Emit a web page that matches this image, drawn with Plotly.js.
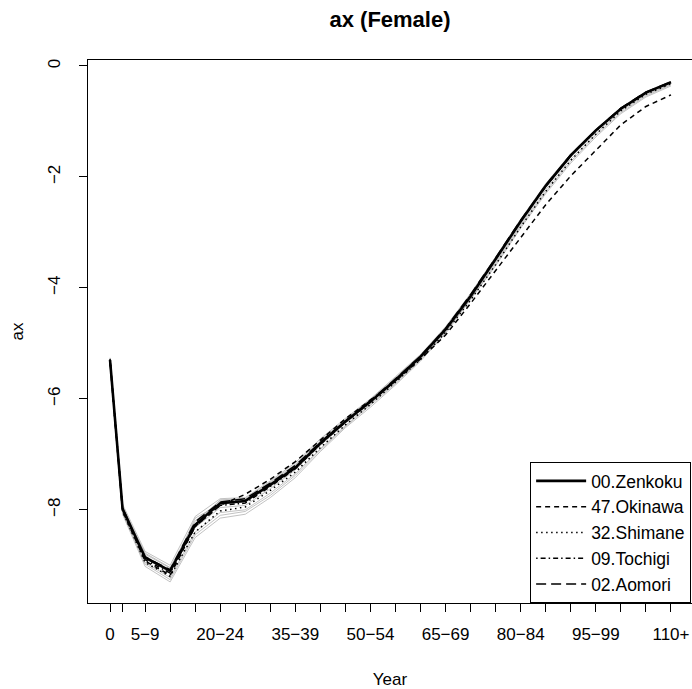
<!DOCTYPE html>
<html>
<head>
<meta charset="utf-8">
<script src="https://cdn.plot.ly/plotly-3.0.1.min.js"></script>
<style>html,body{margin:0;padding:0;background:#fff;}#chart{width:692px;height:689px;}</style>
</head>
<body>
<div id="chart"></div>
<script>
// Age groups (categories) and their mid-age positions
const ageGroups = ["0","1-4","5-9","10-14","15-19","20-24","25-29","30-34","35-39","40-44","45-49","50-54","55-59","60-64","65-69","70-74","75-79","80-84","85-89","90-94","95-99","100-104","105-109","110+"];
const ageMid = [0.5,3,7.5,12.5,17.5,22.5,27.5,32.5,37.5,42.5,47.5,52.5,57.5,62.5,67.5,72.5,77.5,82.5,87.5,92.5,97.5,102.5,107.5,112.5];
const shownLabels = ["0","5-9","20-24","35-39","50-54","65-69","80-84","95-99","110+"];

// Highlighted prefectures
const zenkoku  = [-5.30,-7.98,-8.86,-9.10,-8.27,-7.88,-7.84,-7.55,-7.24,-6.80,-6.41,-6.05,-5.66,-5.24,-4.75,-4.15,-3.48,-2.80,-2.16,-1.61,-1.16,-0.77,-0.48,-0.29];
const okinawa  = [-5.32,-8.02,-8.92,-9.18,-8.30,-7.92,-7.72,-7.45,-7.13,-6.74,-6.36,-6.02,-5.68,-5.28,-4.85,-4.28,-3.68,-3.09,-2.50,-1.98,-1.52,-1.06,-0.73,-0.52];
const shimane  = [-5.30,-8.03,-8.95,-9.20,-8.40,-8.02,-7.95,-7.65,-7.32,-6.88,-6.47,-6.10,-5.70,-5.29,-4.80,-4.22,-3.58,-2.90,-2.26,-1.70,-1.23,-0.81,-0.51,-0.32];
const tochigi  = [-5.28,-7.96,-8.90,-9.14,-8.30,-7.92,-7.88,-7.58,-7.26,-6.82,-6.42,-6.06,-5.67,-5.25,-4.74,-4.14,-3.48,-2.80,-2.17,-1.62,-1.17,-0.77,-0.48,-0.30];
const aomori   = [-5.33,-8.00,-8.85,-9.08,-8.22,-7.86,-7.80,-7.52,-7.20,-6.78,-6.40,-6.03,-5.64,-5.23,-4.73,-4.12,-3.46,-2.78,-2.15,-1.60,-1.16,-0.76,-0.47,-0.29];

// Other prefectures (grey background lines, read approximately)
const grey1 = [-5.26,-7.90,-8.75,-9.00,-8.12,-7.80,-7.78,-7.48,-7.15,-6.72,-6.35,-6.00,-5.60,-5.20,-4.70,-4.10,-3.44,-2.76,-2.12,-1.58,-1.14,-0.75,-0.46,-0.28];
const grey2 = [-5.38,-8.08,-9.02,-9.30,-8.50,-8.15,-8.08,-7.78,-7.42,-6.95,-6.52,-6.15,-5.75,-5.32,-4.82,-4.22,-3.60,-2.92,-2.30,-1.75,-1.28,-0.86,-0.56,-0.36];
const grey3 = [-5.31,-7.95,-8.80,-9.05,-8.20,-7.84,-7.82,-7.52,-7.20,-6.77,-6.39,-6.03,-5.63,-5.22,-4.72,-4.12,-3.47,-2.79,-2.15,-1.61,-1.17,-0.77,-0.48,-0.30];
const grey4 = [-5.35,-8.05,-8.95,-9.22,-8.40,-8.05,-8.00,-7.70,-7.35,-6.90,-6.48,-6.10,-5.71,-5.28,-4.78,-4.18,-3.54,-2.86,-2.23,-1.68,-1.22,-0.81,-0.52,-0.33];
const grey5 = [-5.28,-7.99,-8.88,-9.12,-8.32,-7.96,-7.92,-7.62,-7.28,-6.84,-6.44,-6.07,-5.68,-5.26,-4.76,-4.16,-3.51,-2.83,-2.19,-1.64,-1.19,-0.79,-0.50,-0.31];
const grey6 = [-5.34,-7.93,-8.82,-9.15,-8.15,-7.90,-7.86,-7.58,-7.24,-6.79,-6.40,-6.04,-5.65,-5.23,-4.74,-4.14,-3.49,-2.81,-2.17,-1.62,-1.18,-0.78,-0.49,-0.31];
const grey7 = [-5.29,-8.04,-8.98,-9.26,-8.45,-8.10,-8.03,-7.74,-7.38,-6.92,-6.50,-6.12,-5.73,-5.30,-4.80,-4.20,-3.57,-2.89,-2.27,-1.72,-1.25,-0.84,-0.54,-0.34];
const grey8 = [-5.36,-7.97,-8.78,-9.04,-8.25,-7.82,-7.80,-7.50,-7.18,-6.75,-6.37,-6.01,-5.62,-5.21,-4.71,-4.11,-3.45,-2.77,-2.13,-1.59,-1.15,-0.76,-0.47,-0.29];
const greySeries = [grey1,grey2,grey3,grey4,grey5,grey6,grey7,grey8];

const yTicks = [0,-2,-4,-6,-8];

const traces = [];
greySeries.forEach(g => traces.push({
  x: ageMid, y: g, type: 'scatter', mode: 'lines', showlegend: false, hoverinfo: 'skip',
  line: {color: '#a8a8a8', width: 0.7}
}));
const highlight = [
  {name: '00.Zenkoku', y: zenkoku, dash: 'solid', width: 2.6},
  {name: '47.Okinawa', y: okinawa, dash: '5px,4px', width: 1.5},
  {name: '32.Shimane', y: shimane, dash: '1.5px,3.5px', width: 1.5},
  {name: '09.Tochigi', y: tochigi, dash: '1.5px,3px,5px,3px', width: 1.5},
  {name: '02.Aomori', y: aomori, dash: '10px,5px', width: 1.5}
];
highlight.forEach(h => traces.push({
  x: ageMid, y: h.y, type: 'scatter', mode: 'lines', name: h.name,
  line: {color: '#000', width: h.width, dash: h.dash}
}));

const fontFam = 'Liberation Sans, Arial, Helvetica, sans-serif';
const layout = {
  width: 692, height: 689,
  margin: {l: 88, r: 0, t: 60, b: 86},
  paper_bgcolor: '#fff', plot_bgcolor: '#fff',
  font: {family: fontFam, size: 17, color: '#000'},
  title: {text: '<b>ax (Female)</b>', font: {family: fontFam, size: 22, color: '#000'},
          x: 0.5, xref: 'paper', xanchor: 'center', y: 0.972, yref: 'container', yanchor: 'middle'},
  xaxis: {
    range: [-3.9, 116.7], showgrid: false, zeroline: false,
    showline: true, linecolor: '#000', linewidth: 1, mirror: true,
    tickmode: 'array', tickvals: ageMid,
    ticktext: ageGroups.map(a => shownLabels.includes(a) ? a.replace('-', '\u2212') : ''),
    ticks: 'outside', ticklen: 8, tickwidth: 1, tickcolor: '#000',
    ticklabelstandoff: 8, tickangle: 0,
    tickfont: {size: 17},
    title: {text: 'Year', font: {size: 17}, standoff: 30}
  },
  yaxis: {
    range: [-9.68, 0.108], showgrid: false, zeroline: false,
    showline: true, linecolor: '#000', linewidth: 1, mirror: false,
    tickmode: 'array', tickvals: yTicks, ticktext: yTicks.map(v => v < 0 ? '\u2212' + Math.abs(v) : String(v)),
    ticks: 'outside', ticklen: 8, tickwidth: 1, tickcolor: '#000',
    tickangle: -90, ticklabelstandoff: 12,
    tickfont: {size: 17},
    title: {text: 'ax', font: {size: 17}, standoff: 17}
  },
  legend: {
    x: 0.732, xanchor: 'left', y: 0, yanchor: 'bottom',
    bordercolor: '#000', borderwidth: 1, bgcolor: '#fff',
    font: {size: 17.5}, tracegroupgap: 0, itemwidth: 50
  },
  showlegend: true
};
Plotly.newPlot('chart', traces, layout, {staticPlot: true, displayModeBar: false});
</script>
</body>
</html>
